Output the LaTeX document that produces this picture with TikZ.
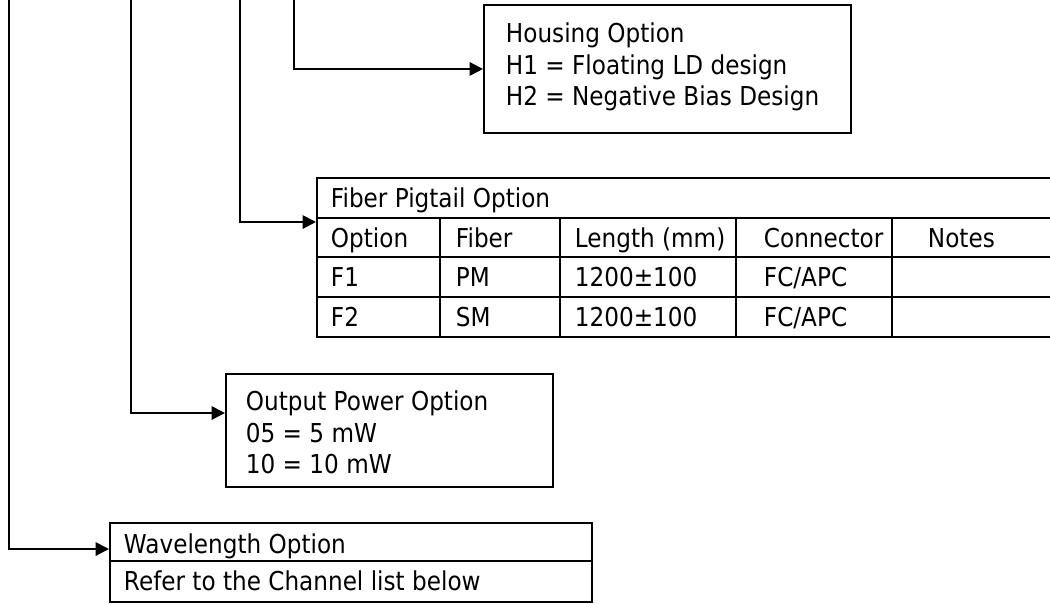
\documentclass[tikz,border=0pt]{standalone}
\usepackage{fontspec}
\setmainfont{DejaVu Sans}[FakeStretch=0.89]
\usetikzlibrary{arrows.meta,calc}

\begin{document}
\begin{tikzpicture}[x=0.02cm, y=-0.02cm, line width=1.1pt,
    conn/.style={-{Triangle[length=0.27cm,width=0.27cm]}},
    optbox/.style={draw, rectangle, inner sep=0pt, anchor=north west},
    txt/.style={anchor=base west, inner sep=0pt, font=\fontsize{14.8pt}{17.8pt}\selectfont}]
  \useasboundingbox (0,0) rectangle (1050,603);
  \clip (0,0) rectangle (1050,603);
  \node[optbox, minimum width=7.34cm, minimum height=2.56cm] (hous) at (483,4) {};
  \node[optbox, minimum width=14.9cm, minimum height=3.18cm] (fib) at (316,177) {};
  \node[optbox, minimum width=6.54cm, minimum height=2.26cm] (pow) at (225,373) {};
  \node[optbox, minimum width=9.64cm, minimum height=1.58cm] (wave) at (109,522) {};
  \foreach \y in {218,257,297}
    \draw (316,\y) -- (1061,\y);
  \foreach \x in {440,560,736,892}
    \draw (\x,218) -- (\x,336);
  \draw (109,561) -- (591,561);
  \node[txt] (hous1) at (505,42) {Housing Option};
  \node[txt] (hous2) at (505,74) {H1 = Floating LD design};
  \node[txt] (hous3) at (505,105) {H2 = Negative Bias Design};
  \node[txt] (fibt) at (330,207) {Fiber Pigtail Option};
  \foreach \x/\a/\b/\c [count=\i] in {330/Option/F1/F2, 455/Fiber/PM/SM,
      574/Length (mm)/1200±100/1200±100, 763/Connector/{FC/APC}/{FC/APC}} {
    \node[txt] (head\i) at (\x,247) {\a};
    \node[txt] (fa\i) at (\x,286) {\b};
    \node[txt] (fb\i) at (\x,326) {\c};
  }
  \node[txt] (head5) at (927,247) {Notes};
  \node[txt] (pow1) at (245,410) {Output Power Option};
  \node[txt] (pow2) at (245,442) {05 = 5 mW};
  \node[txt] (pow3) at (245,473) {10 = 10 mW};
  \node[txt] (wave1) at (123,553) {Wavelength Option};
  \node[txt] (wave2) at (123,590) {Refer to the Channel list below};
  \coordinate (top1) at (9,-2);
  \coordinate (top2) at (131,-2);
  \coordinate (top3) at (240,-2);
  \coordinate (top4) at (294,-2);
  \draw[conn] (top1) |- ($(wave.north west)+(0,27)$);
  \draw[conn] (top2) |- ($(pow.north west)+(0,40)$);
  \draw[conn] (top3) |- ($(fib.north west)+(0,45)$);
  \draw[conn] (top4) |- (hous.west);
\end{tikzpicture}
\end{document}
